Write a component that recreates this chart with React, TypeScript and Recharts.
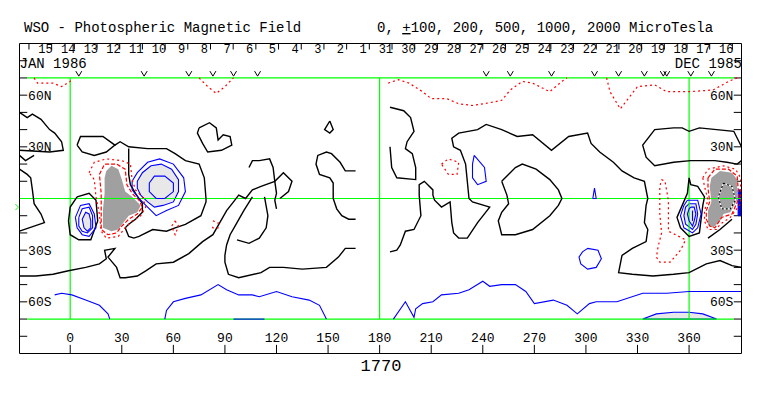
import React from "react";
import { ScatterChart, Scatter, XAxis, YAxis, ReferenceLine, ReferenceDot } from "recharts";

const W = 755;
const H = 380;
const MONO = "'Liberation Mono', 'DejaVu Sans Mono', monospace";

const lonDomain = [-29.5, 390.5];
const latDomain = [-90, 90];

const lonTicks = [0, 30, 60, 90, 120, 150, 180, 210, 240, 270, 300, 330, 360];
const latTicks = [-80, -70, -60, -50, -40, -30, -20, -10, 0, 10, 20, 30, 40, 50, 60, 70, 80];
const latLabels = [
  { lat: 60, text: "60N" },
  { lat: 30, text: "30N" },
  { lat: -30, text: "30S" },
  { lat: -60, text: "60S" },
];
const dayLabels = [
  15, 14, 13, 12, 11, 10, 9, 8, 7, 6, 5, 4, 3, 2, 1,
  31, 30, 29, 28, 27, 26, 25, 24, 23, 22, 21, 20, 19, 18, 17, 16,
];
const firstDayTick = -24; // longitude of the first day separator
const dayWidth = 13.2; // degrees per day (Carrington)
const obsMarks = [5, 43, 69, 83, 95, 109, 242, 256, 280, 305, 319, 334, 345, 347, 361, 373];

// neutral line (black)
const zeroLines: number[][][] = [
  [[-29.5, 50], [-25, 47], [-22, 49], [-17, 46], [-12, 40], [-9, 38], [-5, 33], [-4, 28], [-12, 27], [-29.5, 28]],
  [[-29.5, 25], [-26, 22], [-21, 25]],
  [[-29.5, 17], [-25, 14], [-23, 12], [-22, 5], [-21, -3], [-17, -9], [-15, -14], [-24, -17], [-29.5, -19]],
  [[4, 31], [6, 36], [12, 36], [19, 36], [26, 31], [21, 27], [14, 25], [7, 27], [4, 31]],
  [[26, 31], [29, 33], [34, 30], [45, 29], [56, 29], [61, 26], [67, 22], [75, 20], [78, 12], [79, 0], [79, -2], [76, -10], [67, -15], [61, -17], [56, -19], [48, -18], [40, -22], [37, -23], [34, -22], [32, -17], [34, -15], [38, -12], [42, -8], [42, -3], [38, 3], [35, 8], [34, 14], [34, 20], [34, 29]],
  [[4, 1], [11, 3], [15, -1], [16, -13], [12, -24], [5, -24], [0, -21], [-1, -13], [0, -5], [4, 1]],
  [[75, 41], [81, 44], [85, 41], [86, 34], [89, 37], [93, 36], [94, 31], [88, 28], [80, 27], [77, 32], [74, 38], [75, 41]],
  [[-29.5, -45], [-20, -45], [-10, -44], [-1, -42], [9, -40], [17, -38], [21, -35], [20, -30], [26, -29], [22, -34], [27, -40], [29, -46], [32, -46], [39, -45], [44, -42], [50, -38], [60, -37], [69, -32], [77, -25], [83, -21], [87, -14], [91, -7], [95, -2], [98, 2], [102, 0], [106, 5], [111, 7], [119, 10], [124, 15], [129, 10], [127, 4], [122, 0]],
  [[104, 18], [106, 22], [110, 22], [116, 23], [118, 18], [119, 10], [120, 3], [119, -1], [120, -6]],
  [[106, 1], [101, -7], [97, -14], [93, -21], [91, -27], [90, -33], [90, -37], [92, -44], [98, -46], [111, -43], [116, -40], [124, -40], [135, -41], [149, -40], [156, -34], [160, -29], [166, -29]],
  [[113, 1], [115, -10], [114, -17], [110, -23], [104, -26], [97, -24]],
  [[151, 45], [153, 40], [151, 38], [148, 40], [151, 45]],
  [[166, 16], [160, 16], [157, 21], [152, 26], [149, 27], [144, 25], [143, 20], [145, 14], [151, 12], [153, 9], [153, 0], [155, -6], [158, -10], [162, -12], [166, -12]],
  [[186, 53], [194, 51], [198, 47], [200, 39], [196, 33], [195, 29], [199, 26], [201, 18], [201, 11], [190, 12], [187, 18], [186, 30]],
  [[186, -31], [190, -30], [192, -27], [195, -19], [200, -18], [204, -10], [203, 2], [203, 8], [206, 10], [211, 5], [211, 2], [212, -1], [216, -5], [221, -2], [222, -14], [223, -20], [226, -23], [231, -23], [237, -14], [244, -5], [234, -2], [232, 0], [231, 10], [230, 20], [227, 28], [223, 30], [222, 35], [226, 38], [237, 40], [242, 43], [251, 40], [260, 36], [269, 37], [280, 28], [290, 36], [301, 38], [303, 32], [308, 27], [316, 21], [321, 16], [328, 12], [334, 10], [336, 0], [335, -4], [334, -14], [336, -18], [335, -25], [327, -29], [321, -33], [319, -43], [327, -44], [339, -45], [351, -44], [360, -43], [370, -38], [378, -36], [385, -39], [390.5, -40]],
  [[251, 10], [259, 18], [263, 20], [271, 17], [279, 11], [284, 5], [286, 0], [284, -4], [279, -10], [269, -18], [259, -21], [251, -21], [249, -13], [251, -8], [255, -3], [254, 2], [251, 10]],
  [[360, 12], [361, 8], [365, 7], [369, 1], [368, -4], [367, -12], [366, -20], [360, -22], [355, -17], [353, -11], [356, -4], [359, 3], [360, 12]],
  [[390.5, 30], [386, 39], [376, 40], [366, 41], [360, 39], [356, 41], [351, 41], [340, 40], [333, 31], [335, 24], [340, 19], [351, 21], [361, 22], [375, 22], [382, 21], [388, 20], [390.5, 22]],
  [[385, -12], [378, -18], [371, -23]],
];

// positive field (blue)
const posLines: number[][][] = [
  [[3, -11], [6, -4], [11, -3], [14, -9], [15, -17], [11, -22], [7, -21], [4, -17], [3, -11]],
  [[5, -11], [7, -6], [11, -5], [13, -10], [13, -17], [10, -20], [7, -19], [5, -16], [5, -11]],
  [[36, 10], [39, 15], [45, 21], [52, 23], [60, 20], [66, 12], [67, 4], [63, -4], [56, -7], [50, -10], [45, -5], [40, 0], [36, 5], [36, 10]],
  [[46, 9], [49, 13], [55, 13], [60, 9], [60, 4], [55, 0], [50, 0], [46, 4], [46, 9]],
  [[235, 25], [241, 18], [242, 10], [237, 8], [234, 12], [234, 20], [235, 25]],
  [[301, -29], [307, -30], [309, -35], [306, -40], [301, -41], [297, -38], [296, -34], [298, -31], [301, -29]],
  [[304, 0], [305, 6], [306, 0], [304, 0]],
  [[359, -1], [365, -1], [367, -9], [365, -17], [362, -20], [357, -17], [355, -10], [357, -4], [359, -1]],
  [[361, -5], [363, -5], [364, -9], [363, -13], [362, -16], [360, -13], [359, -9], [360, -6], [361, -5]],
  [[362, -7], [362, -13]],
  [[-9, -56], [-5, -55], [1, -56], [9, -59], [17, -62], [22, -67], [23, -70]],
  [[55, -70], [56, -65], [60, -60], [67, -58], [76, -56], [86, -50], [91, -53], [98, -56], [106, -56], [110, -57], [120, -54], [129, -57], [139, -59], [145, -62], [149, -70]],
  [[95, -70], [113, -70]],
  [[188, -70], [195, -60], [200, -69], [201, -64], [205, -61], [211, -60], [216, -56], [226, -55], [232, -53], [240, -48], [244, -51], [251, -50], [259, -50], [265, -54], [270, -61], [281, -59], [289, -62], [295, -67], [302, -61], [306, -60], [318, -60], [333, -55], [347, -55], [360, -54], [376, -54], [390.5, -54]],
];

// strong positive (light grey fill inside blue)
const posFills: number[][][] = [
  [[7, -12], [9, -8], [11, -9], [12, -13], [12, -17], [10, -19], [8, -17], [7, -12]],
  [[39, 10], [42, 15], [47, 19], [53, 20], [59, 17], [63, 11], [63, 4], [60, -2], [54, -4], [49, -5], [45, -2], [41, 2], [39, 6], [39, 10]],
  [[360, -3], [364, -3], [365, -9], [364, -15], [362, -18], [358, -15], [357, -10], [358, -5], [360, -3]],
  [[333, -70], [341, -67], [351, -66], [360, -66], [368, -67], [376, -70]],
];
const edgeBlue: number[][] = [[388.5, 5], [390.5, 5], [390.5, -10], [388.5, -10]];

// strong negative (dark grey fill)
const negFills: number[][][] = [
  [[21, 16], [24, 19], [28, 17], [30, 11], [32, 4], [36, 1], [41, -4], [39, -8], [34, -10], [31, -14], [28, -18], [24, -19], [19, -17], [19, -7], [20, 3], [20, 12], [21, 16]],
  [[373, 12], [378, 16], [385, 15], [388, 11], [388, -1], [384, -8], [380, -9], [378, -13], [374, -17], [371, -15], [371, -7], [373, -2], [372, 7], [373, 12]],
];

// negative field (red dotted)
const negDotted: number[][][] = [
  [[-21, 70], [-19, 67], [-10, 67], [-5, 65], [0, 68], [1, 70]],
  [[75, 70], [80, 65], [85, 61], [90, 65], [95, 70]],
  [[185, 67], [191, 69], [197, 67], [205, 62], [210, 58], [219, 58], [226, 55], [234, 54], [246, 56], [251, 57], [256, 63], [263, 68], [269, 67], [279, 62], [286, 68], [289, 70]],
  [[312, 70], [314, 62], [320, 52], [323, 56], [330, 65], [340, 66], [347, 62], [360, 62], [374, 63], [383, 68], [388, 70]],
  [[11, 15], [14, 21], [21, 23], [30, 22], [35, 20], [36, 11], [38, 5], [42, 1], [44, -5], [41, -10], [36, -13], [32, -17], [28, -22], [21, -23], [18, -19], [17, -9], [15, 1], [14, 11], [11, 15]],
  [[61, -13], [63, -16], [61, -21], [59, -16], [61, -13]],
  [[83, -13], [86, -14], [86, -17], [83, -17], [82, -15]],
  [[216, 20], [220, 23], [226, 21], [225, 14], [220, 14], [216, 20]],
  [[344, 11], [346, 10], [348, -1], [348, -19], [358, -24], [355, -30], [349, -37], [343, -37], [341, -34], [342, -28], [344, -20], [343, -9], [343, 7], [344, 11]],
  [[368, 12], [371, 17], [380, 19], [387, 17], [390, 12], [390, -3], [384, -11], [378, -15], [376, -18], [371, -18], [369, -13], [369, -7], [371, -1], [369, 7], [368, 12]],
];
const negDashed: number[][][] = [
  [[17, 14], [20, 20], [27, 20], [32, 17], [33, 8], [36, 3], [40, -1], [42, -5], [39, -9], [34, -12], [30, -16], [27, -20], [22, -21], [18, -18], [18, -8], [18, 3], [17, 14]],
  [[371, 12], [375, 17], [383, 17], [388, 13], [389, 0], [385, -9], [379, -11], [375, -17], [372, -16], [370, -12], [370, -7], [372, -2], [371, 6], [371, 12]],
];
const coreLine: number[][] = [[380, 9], [385, 7], [387, -1], [384, -6], [379, -6], [377, 1], [380, 9]];

const gridLines: number[][][] = [
  [[0, 70], [0, -70]],
  [[180, 70], [180, -70]],
  [[360, 70], [360, -70]],
  [[-25, 70], [386, 70]],
  [[-25, -70], [386, -70]],
  [[-29.5, 0], [390.5, 0]],
];
const frame: number[][] = [[-29.5, -90], [390.5, -90], [390.5, 90], [-29.5, 90]];

const toPts = (c: number[][]) => c.map(([x, y]) => ({ x, y }));
const pathOf = (pts: any[], close: boolean) =>
  pts.map((p, i) => `${i ? "L" : "M"}${p.x.toFixed(1)},${p.y.toFixed(1)}`).join("") + (close ? "Z" : "");
const noDot = () => <g />;

function contour(key: string, c: number[][], style: any, close = false) {
  return (
    <Scatter
      key={key}
      data={toPts(c)}
      isAnimationActive={false}
      shape={noDot}
      line={(p: any) => <path d={pathOf(p.points, close)} {...style} />}
    />
  );
}

const blackStyle = { stroke: "#000", strokeWidth: 1.4, fill: "none" };
const blueStyle = { stroke: "#0000ff", strokeWidth: 1.1, fill: "none" };
const redDot = { stroke: "#ff0000", strokeWidth: 1.2, fill: "none", strokeDasharray: "2 3" };
const redDash = { stroke: "#ff0000", strokeWidth: 1.2, fill: "none", strokeDasharray: "4 2" };
const greenStyle = { stroke: "#00ff00", strokeWidth: 1.2, fill: "none" };

const dayTickData = dayLabels.concat([0]).map((_, i) => firstDayTick + i * dayWidth);
const dayLabelData = dayLabels.map((d, i) => ({ x: firstDayTick + i * dayWidth + 9.6, y: 86, label: String(d) }));
const lonLabelData = lonTicks.map((l) => ({ x: l, y: -80.7, label: String(l) }));
const latLeftData = latLabels.map((l) => ({ x: -24.5, y: l.lat, label: l.text }));
const latRightData = latLabels.map((l) => ({ x: 385.8, y: l.lat, label: l.text }));
const obsData = obsMarks.map((m) => ({ x: m, y: 72.5 }));

const textShape = (anchor: string, size: number, dy: number) => (p: any) => (
  <text x={p.cx} y={p.cy} dy={dy} textAnchor={anchor} fontFamily={MONO} fontSize={size} fill="#000">
    {p.payload.label}
  </text>
);

export default function App() {
  return (
    <div style={{ position: "relative", width: W, height: H }}>
      <ScatterChart width={W} height={H} margin={{ top: 35.5, left: 11.5, right: 21.5, bottom: 34.5 }}>
        <XAxis dataKey="x" type="number" domain={lonDomain} hide />
        <YAxis dataKey="y" type="number" domain={latDomain} hide />

        {posFills.map((c, i) => contour(`pf${i}`, c, { ...blueStyle, fill: "#e8e8e8" }, true))}
        {contour("eb", edgeBlue, { fill: "#0000ff", stroke: "#0000ff" }, true)}
        {negFills.map((c, i) => contour(`nf${i}`, c, { fill: "#a0a0a0", stroke: "none" }, true))}
        {gridLines.map((c, i) => contour(`g${i}`, c, greenStyle))}

        {zeroLines.map((c, i) => contour(`z${i}`, c, blackStyle))}
        {posLines.map((c, i) => contour(`p${i}`, c, blueStyle))}
        {negDotted.map((c, i) => contour(`nd${i}`, c, redDot))}
        {negDashed.map((c, i) => contour(`nh${i}`, c, redDash))}
        {contour("cw", coreLine, { stroke: "#fff", strokeWidth: 1.2, fill: "none" })}
        {contour("cb", coreLine, { stroke: "#000", strokeWidth: 1.2, fill: "none", strokeDasharray: "2 2" })}

        {contour("frame", frame, { stroke: "#000", strokeWidth: 1, fill: "none" }, true)}

        {latTicks.map((t) => (
          <ReferenceLine key={`ll${t}`} segment={[{ x: -29.5, y: t }, { x: -25, y: t }]} stroke="#000" />
        ))}
        {latTicks.map((t) => (
          <ReferenceLine key={`lr${t}`} segment={[{ x: 386, y: t }, { x: 390.5, y: t }]} stroke="#000" />
        ))}
        {lonTicks.map((t) => (
          <ReferenceLine key={`bt${t}`} segment={[{ x: t, y: -90 }, { x: t, y: -85 }]} stroke="#000" />
        ))}
        {dayTickData.map((t, i) => (
          <ReferenceLine key={`dt${i}`} segment={[{ x: t, y: 90 }, { x: t, y: 86.5 }]} stroke="#000" />
        ))}

        <Scatter data={lonLabelData} isAnimationActive={false} shape={textShape("middle", 13, 4.5)} />
        <Scatter data={latLeftData} isAnimationActive={false} shape={textShape("start", 13, 4.5)} />
        <Scatter data={latRightData} isAnimationActive={false} shape={textShape("end", 13, 4.5)} />
        <Scatter data={dayLabelData} isAnimationActive={false} shape={textShape("middle", 12, 2.3)} />
        <Scatter
          data={obsData}
          isAnimationActive={false}
          shape={(p: any) => (
            <path
              d={`M${p.cx - 3},${p.cy - 2.5}L${p.cx},${p.cy + 2.5}L${p.cx + 3},${p.cy - 2.5}`}
              stroke="#000"
              fill="none"
            />
          )}
        />
        <ReferenceDot
          x={-31}
          y={-5}
          ifOverflow="visible"
          shape={(p: any) => (
            <path d={`M${p.cx - 1.5},${p.cy - 3}L${p.cx + 1.5},${p.cy}L${p.cx - 1.5},${p.cy + 3}`} stroke="#00ff00" fill="none" />
          )}
        />
      </ScatterChart>

      <svg width={W} height={H} style={{ position: "absolute", left: 0, top: 0, pointerEvents: "none" }}>
        <text x={16} y={24} fontFamily={MONO} fontSize={14} fill="#000">
          WSO - Photospheric Magnetic Field
        </text>
        <text x={369} y={24} fontFamily={MONO} fontSize={14} fill="#000">
          0, <tspan style={{ textDecoration: "underline" }}>+</tspan>100, 200, 500, 1000, 2000 MicroTesla
        </text>
        <text x={11.5} y={59.5} fontFamily={MONO} fontSize={14} fill="#000">
          JAN 1986
        </text>
        <text x={734} y={59.5} textAnchor="end" fontFamily={MONO} fontSize={14} fill="#000">
          DEC 1985
        </text>
        <text x={373} y={363} textAnchor="middle" fontFamily={MONO} fontSize={17} fill="#000">
          1770
        </text>
      </svg>
    </div>
  );
}
